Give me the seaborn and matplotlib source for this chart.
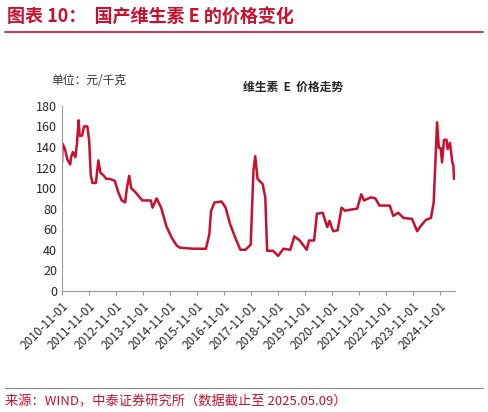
import pandas as pd
import matplotlib
matplotlib.use("Agg")
import matplotlib.pyplot as plt
import seaborn as sns

dates = ["2010-11-01", "2010-11-10", "2010-12-12", "2011-01-12", "2011-02-20", "2011-03-04",
         "2011-03-28", "2011-05-01", "2011-05-22", "2011-06-15", "2011-06-28", "2011-08-01",
         "2011-08-25", "2011-10-10", "2011-11-04", "2011-11-25", "2011-12-18", "2012-02-03",
         "2012-03-07", "2012-04-04", "2012-05-07", "2012-06-22", "2012-08-07", "2012-10-16",
         "2012-12-01", "2013-01-18", "2013-03-04", "2013-03-28", "2013-04-28", "2013-05-25",
         "2013-07-22", "2013-10-22", "2014-02-15", "2014-03-10", "2014-05-04", "2014-07-04",
         "2014-09-13", "2014-11-22", "2015-02-01", "2015-03-16", "2015-09-19", "2016-03-01",
         "2016-04-16", "2016-05-10", "2016-06-25", "2016-09-28", "2016-11-22", "2017-01-22",
         "2017-04-01", "2017-06-10", "2017-08-19", "2017-10-28", "2017-12-04", "2017-12-28",
         "2018-01-28", "2018-04-07", "2018-05-13", "2018-06-07", "2018-08-25", "2018-11-04",
         "2019-01-13", "2019-04-16", "2019-06-10", "2019-08-22", "2019-11-25", "2019-12-25",
         "2020-03-04", "2020-04-10", "2020-06-28", "2020-08-28", "2020-09-28", "2020-11-16",
         "2021-01-16", "2021-03-10", "2021-04-25", "2021-07-04", "2021-10-07", "2021-12-01",
         "2022-01-07", "2022-04-10", "2022-06-10", "2022-08-04", "2022-12-22", "2023-02-07",
         "2023-04-16", "2023-06-25", "2023-10-19", "2023-12-28", "2024-02-13", "2024-04-22",
         "2024-07-01", "2024-08-07", "2024-09-22", "2024-10-16", "2024-11-10", "2024-11-28",
         "2024-12-25", "2025-01-28", "2025-02-12", "2025-03-16", "2025-04-16", "2025-05-01",
         "2025-05-09"]
prices = [125, 143, 138, 128, 123, 130, 135, 130, 143, 166, 151, 151,
          160, 160, 146, 113, 105, 105, 127, 115, 113, 109, 109, 107,
          96, 88, 86, 100, 112, 100, 96, 88, 88, 81, 90, 81,
          63, 52, 44, 42, 41, 41, 55, 78, 86, 87, 81, 65,
          52, 40, 40, 45, 117, 131, 109, 104, 91, 39, 39, 34,
          41, 40, 53, 49, 40, 49, 49, 75, 76, 62, 68, 58,
          59, 81, 78, 79, 80, 94, 88, 91, 90, 83, 83, 73,
          76, 71, 70, 58, 63, 69, 71, 86, 164, 139, 139, 125,
          147, 147, 138, 144, 125, 122, 109]
tick_dates = pd.date_range("2010-11-01", "2024-11-01", freq="12MS")

df = pd.DataFrame({"date": pd.to_datetime(dates), "price": prices})

sns.set_style("white")
plt.rcParams["font.family"] = ["Noto Sans CJK SC", "DejaVu Sans"]

fig = plt.figure(figsize=(4.88, 4.12), dpi=100)
ax = fig.add_axes([0.127, 0.294, 0.805, 0.449])
sns.lineplot(data=df, x="date", y="price", ax=ax, color="#C8102E", linewidth=1.8)

ax.set_ylim(0, 180)
ax.set_yticks(range(0, 181, 20))
ax.set_xlim(pd.Timestamp("2010-11-01"), pd.Timestamp("2025-05-20"))
ax.set_xticks(tick_dates)
ax.set_xticklabels([d.strftime("%Y-%m-%d") for d in tick_dates], rotation=45, ha="right",
                   rotation_mode="anchor", fontsize=8.5)
ax.tick_params(axis="y", labelsize=9, length=0)
ax.tick_params(axis="x", length=3, direction="out", bottom=True, color="#999999")
ax.set_xlabel("")
ax.set_ylabel("")
for s in ["top", "right"]:
    ax.spines[s].set_visible(False)
for s in ["left", "bottom"]:
    ax.spines[s].set_color("#999999")
    ax.spines[s].set_linewidth(0.8)

fig.text(0.015, 0.945, "图表 10：  国产维生素 E 的价格变化", fontsize=13, color="#C8102E",
         fontweight="bold", style="italic")
fig.add_artist(plt.Line2D([0.01, 0.99], [0.922, 0.922], color="#C8102E", linewidth=1.2))
fig.text(0.105, 0.795, "单位：元/千克", fontsize=8.5, color="#333333")
fig.text(0.6, 0.78, "维生素  E  价格走势", fontsize=8.5, fontweight="bold", ha="center")
fig.add_artist(plt.Line2D([0.01, 0.99], [0.058, 0.058], color="#888888", linewidth=0.8))
fig.text(0.01, 0.015, "来源：WIND，中泰证券研究所（数据截止至 2025.05.09）", fontsize=9.5, color="#C8102E")

fig.savefig("out.png", dpi=100)
